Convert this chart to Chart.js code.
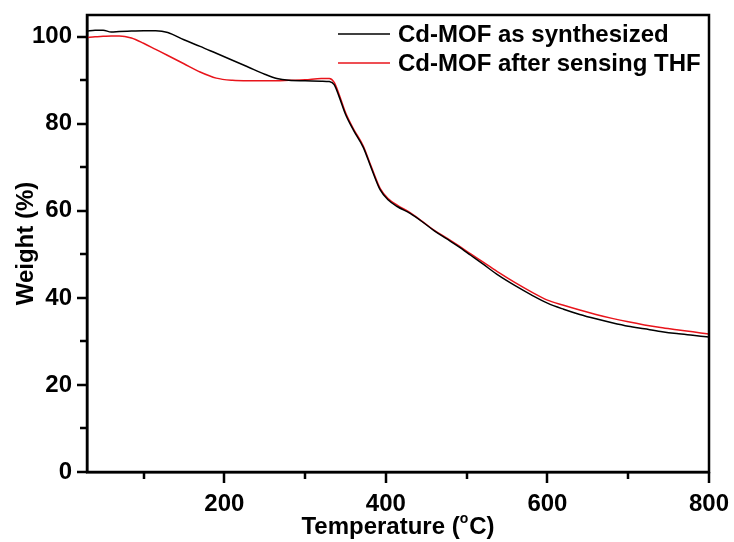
<!DOCTYPE html>
<html lang="en">
<head>
    <meta charset="UTF-8">
    <title>TGA Cd-MOF</title>
    <script src="https://cdn.jsdelivr.net/npm/chart.js"></script>
    <style>
        html, body { margin: 0; padding: 0; background: #fff; }
        #wrap { width: 734px; height: 542px; }
    </style>
</head>
<body>
    <div id="wrap"><canvas id="tgaChart" width="734" height="542"></canvas></div>
    <script>
        // TGA curves, temperature in degC, weight in %
        const temps = [30, 40, 50, 60, 70, 85, 100, 115, 130, 150, 170, 190, 210, 230, 250, 265, 280, 300, 320, 330,
            336, 342, 350, 360, 372, 382, 393, 403, 414, 430, 445, 460, 475, 490, 505, 520, 540, 560, 580, 600,
            620, 640, 660, 680, 700, 720, 740, 760, 780, 800];
        const asSynthesized = [101.3, 101.5, 101.5, 101.1, 101.2, 101.3, 101.4, 101.4, 101.0, 99.3, 97.8, 96.2, 94.6, 93.0, 91.4, 90.4, 90.0, 89.9, 89.8, 89.7,
            89.0, 86.3, 82.2, 78.5, 74.6, 69.8, 64.8, 62.5, 61.0, 59.4, 57.5, 55.4, 53.6, 51.8, 49.8, 47.8, 45.1, 42.8, 40.7, 38.8,
            37.4, 36.2, 35.2, 34.3, 33.5, 32.9, 32.3, 31.8, 31.4, 31.0];
        const afterTHF = [99.8, 100.0, 100.1, 100.2, 100.2, 99.7, 98.5, 97.1, 95.7, 93.8, 91.9, 90.5, 90.0, 89.9, 89.9, 89.9, 90.0, 90.1, 90.4, 90.4,
            89.5, 86.8, 82.6, 78.8, 74.9, 70.1, 65.1, 62.8, 61.3, 59.6, 57.6, 55.5, 53.8, 52.0, 50.1, 48.3, 45.8, 43.5, 41.4, 39.5,
            38.3, 37.2, 36.2, 35.3, 34.5, 33.8, 33.2, 32.7, 32.2, 31.7];

        const xTicks = [100, 200, 300, 400, 500, 600, 700, 800];
        const yTicks = [0, 10, 20, 30, 40, 50, 60, 70, 80, 90, 100];

        const FONT = '"Liberation Sans", Arial, sans-serif';

        function toPoints(xs, ys) {
            return xs.map((x, i) => ({ x: x, y: ys[i] }));
        }

        // keep the plot box fixed: no extra room for overhanging end labels
        function noEdgePadding(scale) {
            scale.paddingTop = 0;
            scale.paddingBottom = 0;
            scale.paddingLeft = 0;
            scale.paddingRight = 0;
        }

        // frame, outward tick marks, legend and the x title with superscript
        const decorations = {
            id: 'decorations',
            afterDraw(chart) {
                const ctx = chart.ctx;
                const area = chart.chartArea;
                const xs = chart.scales.x;
                const ys = chart.scales.y;
                ctx.save();
                ctx.strokeStyle = '#000';
                ctx.lineWidth = 2.5;
                ctx.strokeRect(area.left, area.top, area.right - area.left, area.bottom - area.top);

                ctx.beginPath();
                xTicks.forEach(v => {
                    const px = Math.round(xs.getPixelForValue(v));
                    const len = v % 200 === 0 ? 11 : 7;
                    ctx.moveTo(px, area.bottom);
                    ctx.lineTo(px, area.bottom + len);
                });
                yTicks.forEach(v => {
                    const py = Math.round(ys.getPixelForValue(v));
                    const len = v % 20 === 0 ? 10 : 7;
                    ctx.moveTo(area.left, py);
                    ctx.lineTo(area.left - len, py);
                });
                ctx.stroke();

                // legend
                ctx.font = 'bold 24px ' + FONT;
                ctx.textBaseline = 'middle';
                ctx.textAlign = 'left';
                const rowY = [34, 63];
                chart.data.datasets.forEach((ds, i) => {
                    ctx.strokeStyle = ds.borderColor;
                    ctx.lineWidth = 1.5;
                    ctx.beginPath();
                    ctx.moveTo(338, rowY[i]);
                    ctx.lineTo(390, rowY[i]);
                    ctx.stroke();
                    ctx.fillStyle = '#000';
                    ctx.fillText(ds.label, 398, rowY[i] + 1);
                });

                // x axis title: Temperature (°C) with raised small o
                ctx.textBaseline = 'alphabetic';
                const big = 'bold 24px ' + FONT;
                const small = 'bold 14px ' + FONT;
                ctx.font = big;
                const p1 = 'Temperature (';
                const p3 = 'C)';
                const w1 = ctx.measureText(p1).width;
                const w3 = ctx.measureText(p3).width;
                ctx.font = small;
                const w2 = ctx.measureText('o').width + 1;
                const cx = (area.left + area.right) / 2;
                const x0 = cx - (w1 + w2 + w3) / 2;
                const base = 534;
                ctx.font = big;
                ctx.fillText(p1, x0, base);
                ctx.font = small;
                ctx.fillText('o', x0 + w1, base - 11);
                ctx.font = big;
                ctx.fillText(p3, x0 + w1 + w2, base);
                ctx.restore();
            }
        };

        const ctx = document.getElementById('tgaChart').getContext('2d');
        const tgaChart = new Chart(ctx, {
            type: 'scatter',
            data: {
                datasets: [
                    {
                        label: 'Cd-MOF as synthesized',
                        data: toPoints(temps, asSynthesized),
                        borderColor: '#000000',
                        borderWidth: 1.5,
                        showLine: true,
                        pointRadius: 0,
                        cubicInterpolationMode: 'monotone',
                        fill: false
                    },
                    {
                        label: 'Cd-MOF after sensing THF',
                        data: toPoints(temps, afterTHF),
                        borderColor: '#e8141b',
                        borderWidth: 1.5,
                        showLine: true,
                        pointRadius: 0,
                        cubicInterpolationMode: 'monotone',
                        fill: false
                    }
                ]
            },
            options: {
                responsive: false,
                animation: false,
                layout: { padding: { top: 15, right: 25, left: 0, bottom: 0 } },
                plugins: {
                    legend: { display: false },
                    tooltip: { enabled: false }
                },
                scales: {
                    x: {
                        type: 'linear',
                        min: 30,
                        max: 800,
                        afterBuildTicks: scale => { scale.ticks = xTicks.map(v => ({ value: v })); },
                        afterFit: scale => { scale.height = 70; noEdgePadding(scale); },
                        grid: { display: false, drawTicks: false },
                        border: { display: true, color: '#000', width: 2.5 },
                        ticks: {
                            autoSkip: false,
                            maxRotation: 0,
                            padding: 18,
                            color: '#000',
                            font: { family: FONT, size: 24, weight: 'bold' },
                            callback: v => (v % 200 === 0 ? v : '')
                        }
                    },
                    y: {
                        min: 0,
                        max: 105,
                        afterBuildTicks: scale => { scale.ticks = yTicks.map(v => ({ value: v })); },
                        afterFit: scale => { scale.width = 87; noEdgePadding(scale); },
                        grid: { display: false, drawTicks: false },
                        border: { display: true, color: '#000', width: 2.5 },
                        title: {
                            display: true,
                            text: 'Weight (%)',
                            color: '#000',
                            font: { family: FONT, size: 24, weight: 'bold' },
                            padding: { top: 12, bottom: 0 }
                        },
                        ticks: {
                            autoSkip: false,
                            padding: 15,
                            color: '#000',
                            font: { family: FONT, size: 24, weight: 'bold' },
                            callback: v => (v % 20 === 0 ? v : '')
                        }
                    }
                }
            },
            plugins: [decorations]
        });
    </script>
</body>
</html>
